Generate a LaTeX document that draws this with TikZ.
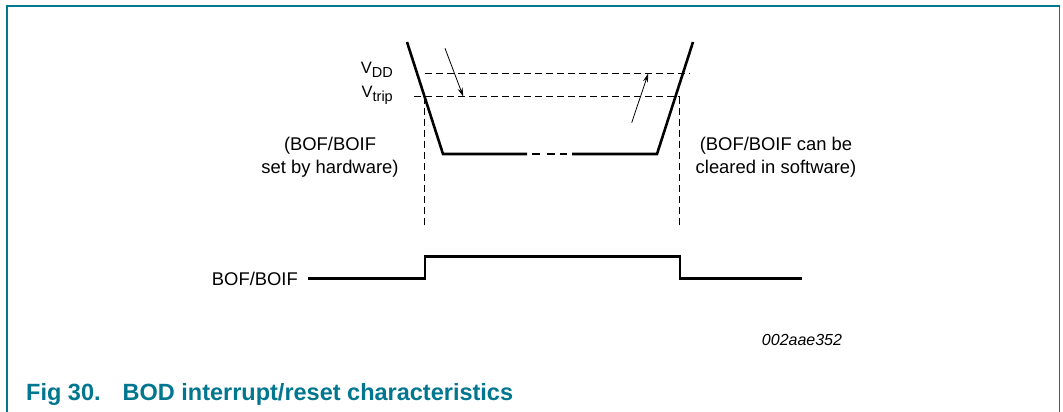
\documentclass[tikz,border=0pt]{standalone}
\usepackage{fontspec}
\setmainfont{Liberation Sans}
\usetikzlibrary{arrows.meta}
\definecolor{nxpteal}{RGB}{0,118,143}
\newcommand{\vsub}[1]{\raisebox{-4pt}{\fontsize{14.5}{16}\selectfont #1}}
\begin{document}
\begin{tikzpicture}[x=1pt,y=-1pt,
  wave/.style={line width=2.6pt, line join=miter, line cap=butt},
  guide/.style={line width=0.8pt, dash pattern=on 7pt off 4pt},
  lbl/.style={font=\fontsize{18.4}{23}\selectfont, align=center, inner sep=0pt},
  vlbl/.style={font=\fontsize{16.5}{21}\selectfont, inner sep=0pt, anchor=base east},
  thinarrow/.style={line width=0.8pt, -{Stealth[length=9pt,width=5pt]}}
]
\useasboundingbox (0,0) rectangle (1063,412);
% frame
\draw[nxpteal, line width=1.5pt] (7,412) -- (7,6) -- (1059.5,6) -- (1059.5,412);

% caption
\node[inner sep=0pt, anchor=base west, text=nxpteal, font=\fontsize{23.5}{28}\bfseries\selectfont] (cap) at (26,400)
  {Fig 30.\hspace{22pt}BOD interrupt/reset characteristics};

% labels
\node[vlbl] (vdd) at (393,73.3) {V\vsub{DD}};
\node[vlbl] (vtrip) at (393,97) {V\vsub{trip}};
\node[lbl] (hw) at (330,157) {(BOF/BOIF\\set by hardware)};
\node[lbl] (sw) at (776,157) {(BOF/BOIF can be\\cleared in software)};
\node[lbl, anchor=east] (bof) at (298,279) {BOF/BOIF};
\node[inner sep=0pt, font=\fontsize{16}{19}\itshape\selectfont] (id) at (802,340) {002aae352};

% supply curve
\coordinate (v0) at (407,42);
\coordinate (v1) at (443,154);
\coordinate (v2) at (527,154);
\coordinate (d1a) at (532,154); \coordinate (d1b) at (540,154);
\coordinate (d2a) at (547,154); \coordinate (d2b) at (555,154);
\coordinate (d3a) at (560,154); \coordinate (d3b) at (567,154);
\coordinate (v3) at (572,154);
\coordinate (v4) at (657,154);
\coordinate (v5) at (693,42);
\draw[wave] (v0) -- (v1) -- (v2);
\draw[wave] (d1a) -- (d1b);
\draw[wave] (d2a) -- (d2b);
\draw[wave] (d3a) -- (d3b);
\draw[wave] (v3) -- (v4) -- (v5);

% guide lines
\coordinate (gdd0) at (425,73.3); \coordinate (gdd1) at (690,73.3);
\coordinate (gtr0) at (414,96.7); \coordinate (gtr1) at (680,96.7);
\coordinate (gl0) at (424.3,96.7); \coordinate (gl1) at (424.3,225);
\coordinate (gr0) at (679.3,96.7); \coordinate (gr1) at (679.3,225);
\draw[guide] (gdd0) -- (gdd1);
\draw[guide] (gtr0) -- (gtr1);
\draw[guide] (gl0) -- (gl1);
\draw[guide] (gr0) -- (gr1);

% arrows
\coordinate (a0) at (445,48.3); \coordinate (a1) at (463.3,96.7);
\coordinate (b0) at (631.7,122.7); \coordinate (b1) at (648.3,73.3);
\draw[thinarrow] (a0) -- (a1);
\draw[thinarrow] (b0) -- (b1);

% BOF/BOIF signal
\coordinate (s0) at (308,278.3);
\coordinate (s1) at (425,278.3);
\coordinate (s2) at (425,256.7);
\coordinate (s3) at (680,256.7);
\coordinate (s4) at (680,278.3);
\coordinate (s5) at (802,278.3);
\draw[wave] (s0) -- (s1) -- (s2) -- (s3) -- (s4) -- (s5);
\end{tikzpicture}
\end{document}
